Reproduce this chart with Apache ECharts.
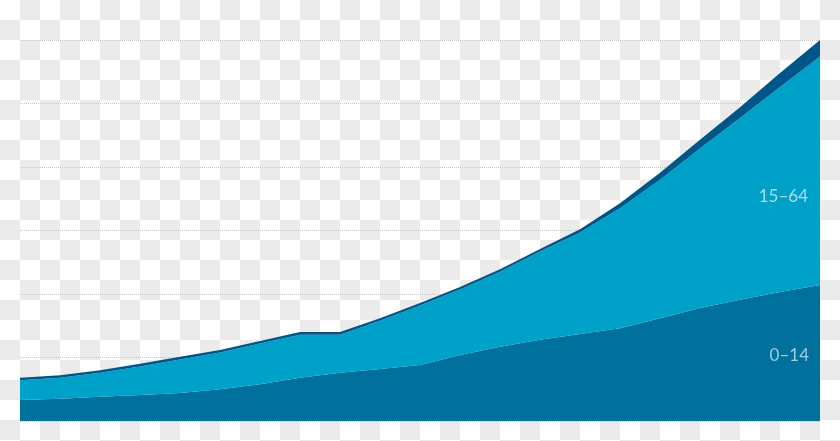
<!DOCTYPE html>
<html>
<head>
<meta charset="utf-8">
<script src="https://cdn.jsdelivr.net/npm/echarts@6/dist/echarts.min.js"></script>
<style>
  html, body { margin: 0; padding: 0; }
  body {
    width: 840px; height: 441px;
    background-color: #fff;
    background-image: conic-gradient(#ebebeb 0 25%, #fff 0 50%, #ebebeb 0 75%, #fff 0);
    background-size: 40px 40px;
  }
  #chart { width: 840px; height: 441px; }
</style>
</head>
<body>
<div id="chart"></div>
<script>
// 21 evenly spaced points along the time axis
var periods = ['1','2','3','4','5','6','7','8','9','10','11','12','13','14','15','16','17','18','19','20','21'];

var age0to14 = [0.33,0.35,0.38,0.41,0.44,0.50,0.58,0.68,0.76,0.82,0.88,1.04,1.17,1.28,1.37,1.46,1.62,1.78,1.91,2.03,2.14];
var age15to64 = [0.31,0.33,0.38,0.45,0.53,0.58,0.64,0.68,0.60,0.76,0.94,1.03,1.18,1.39,1.60,1.89,2.18,2.51,2.86,3.23,3.60];
var age65plus = [0.04,0.04,0.04,0.04,0.04,0.04,0.04,0.04,0.04,0.04,0.04,0.04,0.04,0.04,0.05,0.08,0.11,0.14,0.17,0.22,0.26];

var yTicks = [0, 1, 2, 3, 4, 5, 6];

var chart = echarts.init(document.getElementById('chart'));

function areaSeries(name, data, color) {
  return {
    name: name,
    type: 'line',
    stack: 'pop',
    data: data,
    showSymbol: false,
    smooth: false,
    lineStyle: { width: 0 },
    areaStyle: { color: color, opacity: 1 },
    itemStyle: { color: color }
  };
}

var option = {
  animation: false,
  grid: { left: 20, right: 20, top: 40, bottom: 20 },
  xAxis: {
    type: 'category',
    data: periods,
    boundaryGap: false,
    axisLine: { show: false },
    axisTick: { show: false },
    axisLabel: { show: false }
  },
  yAxis: {
    type: 'value',
    min: yTicks[0],
    max: yTicks[yTicks.length - 1],
    interval: 1,
    axisLine: { show: false },
    axisTick: { show: false },
    axisLabel: { show: false },
    splitLine: { lineStyle: { type: 'dotted', color: '#c4c4c4', width: 1 } }
  },
  series: [
    areaSeries('0–14', age0to14, '#00709d'),
    areaSeries('15–64', age15to64, '#00a1c8'),
    areaSeries('65+', age65plus, '#005689')
  ],
  graphic: [
    {
      type: 'text', right: 32, top: 188, z: 100,
      style: { text: '15–64', fill: '#a9dcec', font: '17px Lato, "Open Sans", sans-serif' }
    },
    {
      type: 'text', right: 31, top: 347, z: 100,
      style: { text: '0–14', fill: '#9ccde0', font: '17px Lato, "Open Sans", sans-serif' }
    }
  ]
};

chart.setOption(option);
</script>
</body>
</html>
